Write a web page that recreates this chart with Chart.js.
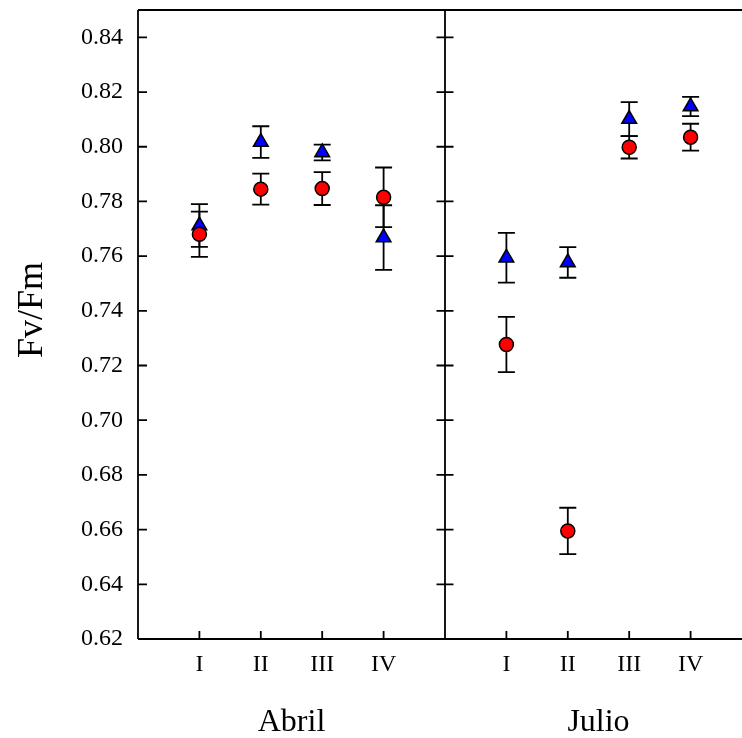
<!DOCTYPE html>
<html><head><meta charset="utf-8">
<script src="https://cdn.jsdelivr.net/npm/chart.js@4.4.1/dist/chart.umd.min.js"></script>
<style>
html,body{margin:0;padding:0;background:#fff;overflow:hidden;}
#wrap{position:relative;width:742px;height:738px;overflow:hidden;background:#fff;}
canvas{position:absolute;left:0;top:0;}
</style></head><body>
<div id="wrap"><canvas id="c" width="780" height="738" style="width:780px;height:738px"></canvas></div>
<script>
// ---- data ----
const months = ['Abril', 'Julio'];
const sites = ['I', 'II', 'III', 'IV'];
const yTicks = [0.62, 0.64, 0.66, 0.68, 0.70, 0.72, 0.74, 0.76, 0.78, 0.80, 0.82, 0.84];
const yTitle = 'Fv/Fm';

const circleAbril    = [0.768, 0.7845, 0.7847, 0.7815];
const circleAbrilErr = [0.0083, 0.0057, 0.0060, 0.0109];
const triAbril       = [0.7712, 0.8017, 0.7979, 0.7668];
const triAbrilErr    = [0.0078, 0.0058, 0.0029, 0.0118];

const circleJulio    = [0.7277, 0.6595, 0.7998, 0.8035];
const circleJulioErr = [0.0101, 0.0085, 0.0041, 0.0049];
const triJulio       = [0.7594, 0.7577, 0.8101, 0.8147];
const triJulioErr    = [0.0091, 0.0056, 0.0062, 0.0035];

// ---- build ----
const FONT = "'Liberation Serif', 'Times New Roman', serif";
function pts(abril, julio) {
  const out = [];
  abril.forEach((v, i) => out.push({x: i + 1, y: v}));
  julio.forEach((v, i) => out.push({x: 5 + i + 1, y: v}));
  return out;
}
const siteTickValues = [];
months.forEach((m, mi) => sites.forEach((s, si) => siteTickValues.push(mi * 5 + si + 1)));
const monthTickValues = months.map((m, mi) => mi * 5 + 2.5);

function noPad(s) { s.paddingTop = 0; s.paddingBottom = 0; s.paddingLeft = 0; s.paddingRight = 0; }

const errorBars = {
  id: 'errorBars',
  beforeDatasetsDraw(chart) {
    const ctx = chart.ctx, xs = chart.scales.x, ys = chart.scales.y;
    ctx.save();
    ctx.strokeStyle = '#000';
    ctx.lineWidth = 1.8;
    chart.data.datasets.forEach(ds => {
      ds.data.forEach((p, i) => {
        const e = ds.errors[i];
        const px = xs.getPixelForValue(p.x);
        const t = ys.getPixelForValue(p.y + e), b = ys.getPixelForValue(p.y - e);
        ctx.beginPath();
        ctx.moveTo(px, t); ctx.lineTo(px, b);
        ctx.moveTo(px - 8.5, t); ctx.lineTo(px + 8.5, t);
        ctx.moveTo(px - 8.5, b); ctx.lineTo(px + 8.5, b);
        ctx.stroke();
      });
    });
    ctx.restore();
  }
};

const frame = {
  id: 'frame',
  beforeDatasetsDraw(chart) {
    const ctx = chart.ctx, a = chart.chartArea, xs = chart.scales.x, ys = chart.scales.y;
    const mid = xs.getPixelForValue(5);
    ctx.save();
    ctx.strokeStyle = '#000';
    ctx.lineWidth = 1.8;
    ctx.beginPath();
    ctx.moveTo(a.left, a.top); ctx.lineTo(a.right, a.top);
    ctx.moveTo(a.left, a.bottom); ctx.lineTo(a.right, a.bottom);
    ctx.moveTo(a.left, a.top); ctx.lineTo(a.left, a.bottom);
    ctx.moveTo(mid, a.top); ctx.lineTo(mid, a.bottom);
    ys.ticks.forEach(t => {
      const py = ys.getPixelForValue(t.value);
      ctx.moveTo(a.left, py); ctx.lineTo(a.left + 9, py);
      ctx.moveTo(mid - 8.5, py); ctx.lineTo(mid + 8.5, py);
    });
    xs.ticks.forEach(t => {
      const px = xs.getPixelForValue(t.value);
      ctx.moveTo(px, a.bottom); ctx.lineTo(px, a.bottom - 8);
    });
    ctx.stroke();
    // y axis title
    ctx.fillStyle = '#000';
    ctx.font = '36px ' + FONT;
    ctx.textAlign = 'center';
    ctx.textBaseline = 'alphabetic';
    ctx.translate(41.5, 310);
    ctx.rotate(-Math.PI / 2);
    ctx.fillText(yTitle, 0, 0);
    ctx.restore();
  }
};

new Chart(document.getElementById('c'), {
  type: 'scatter',
  data: {
    datasets: [
      {
        label: 'circle',
        data: pts(circleAbril, circleJulio),
        errors: circleAbrilErr.concat(circleJulioErr),
        xAxisID: 'x', yAxisID: 'y',
        pointStyle: 'circle', pointRadius: 7, pointHoverRadius: 7,
        pointBackgroundColor: '#ff0000', pointBorderColor: '#000', pointBorderWidth: 1.5
      },
      {
        label: 'triangle',
        data: pts(triAbril, triJulio),
        errors: triAbrilErr.concat(triJulioErr),
        xAxisID: 'x', yAxisID: 'y',
        pointStyle: 'triangle', pointRadius: 8.5, pointHoverRadius: 8.5,
        pointBackgroundColor: '#0000ff', pointBorderColor: '#000', pointBorderWidth: 1.5
      }
    ]
  },
  options: {
    responsive: false, animation: false, devicePixelRatio: 1,
    layout: {padding: {top: 8, right: 28, left: 0, bottom: 0}},
    plugins: {legend: {display: false}, tooltip: {enabled: false}},
    events: [],
    scales: {
      x: {
        type: 'linear', position: 'bottom', min: 0, max: 10, weight: 0,
        grid: {display: false, drawTicks: false}, border: {display: false},
        afterBuildTicks: s => { s.ticks = siteTickValues.map(v => ({value: v})); },
        ticks: {
          autoSkip: false, maxRotation: 0, padding: 11.5, color: '#000',
          font: {family: FONT, size: 24},
          callback: v => sites[(Math.round(v) - 1) % 5]
        },
        afterFit: s => { s.height = 50; noPad(s); }
      },
      x2: {
        type: 'linear', position: 'bottom', min: 0, max: 10, weight: 1,
        grid: {display: false, drawTicks: false}, border: {display: false},
        afterBuildTicks: s => { s.ticks = monthTickValues.map(v => ({value: v})); },
        ticks: {
          autoSkip: false, maxRotation: 0, padding: 14, color: '#000',
          font: {family: FONT, size: 32},
          callback: v => months[Math.floor(v / 5)]
        },
        afterFit: s => { s.height = 49; noPad(s); }
      },
      y: {
        type: 'linear', position: 'left', min: 0.62, max: 0.85,
        grid: {display: false, drawTicks: false}, border: {display: false},
        afterBuildTicks: s => { s.ticks = yTicks.map(v => ({value: v})); },
        ticks: {
          padding: 15, color: '#000',
          font: {family: FONT, size: 24},
          callback: v => Number(v).toFixed(2)
        },
        afterFit: s => { s.width = 138; noPad(s); }
      }
    }
  },
  plugins: [frame, errorBars]
});
</script>
</body></html>
